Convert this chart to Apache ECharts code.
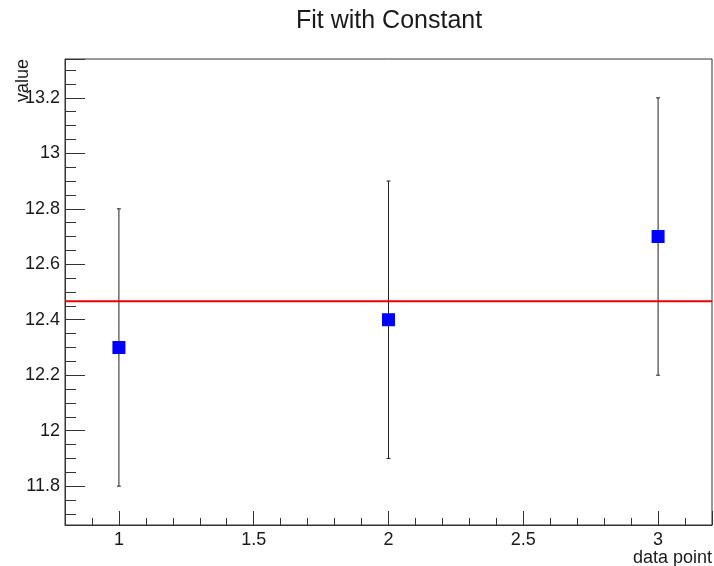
<!DOCTYPE html>
<html>
<head>
<meta charset="utf-8">
<script src="https://cdn.jsdelivr.net/npm/echarts@6/dist/echarts.min.js"></script>
<style>
  html, body { margin: 0; padding: 0; background: #fff; }
  #chart { width: 714px; height: 566px; }
</style>
</head>
<body>
<div id="chart"></div>
<script>
// Measurements and their uncertainties
const xValues = [1, 2, 3];
const yValues = [12.3, 12.4, 12.7];
const yErrors = [0.5, 0.5, 0.5];

// Result of the constant fit (weighted mean)
const fitConstant = 12.4667;

// Axis ranges
const xRange = [0.8, 3.2];
const yRange = [11.66, 13.34];
// Span covered by the fine (0.05) y ticks
const yMinorRange = [11.7, 13.3];

const FONT = '"Liberation Sans", Arial, Helvetica, sans-serif';
const INK = '#1a1a1a';

// Main plotting frame (pixels)
const frame = { left: 65, right: 2, top: 59, bottom: 41 };
const frameH = 566 - frame.top - frame.bottom;
const pxPerY = frameH / (yRange[1] - yRange[0]);

// A second grid whose vertical extent lines up with the fine y ticks
const minorGrid = {
  left: frame.left,
  right: frame.right,
  top: frame.top + (yRange[1] - yMinorRange[1]) * pxPerY,
  bottom: frame.bottom + (yMinorRange[0] - yRange[0]) * pxPerY
};

function isMultiple(v, step) {
  const q = v / step;
  return Math.abs(q - Math.round(q)) < 1e-6;
}
function fmt(v) { return String(+v.toFixed(2)); }

const chart = echarts.init(document.getElementById('chart'), null, { renderer: 'canvas' });

chart.setOption({
  animation: false,
  backgroundColor: '#fff',
  title: {
    text: 'Fit with Constant',
    left: 291,
    top: 4,
    textStyle: { fontFamily: FONT, fontSize: 25, fontWeight: 'normal', color: INK }
  },
  grid: [
    Object.assign({ show: true, borderColor: '#333', borderWidth: 1, backgroundColor: 'transparent', containLabel: false, outerBoundsMode: 'none' }, frame),
    Object.assign({ show: false, containLabel: false, outerBoundsMode: 'none' }, minorGrid)
  ],
  xAxis: [
    {
      // major ticks and labels
      type: 'value', gridIndex: 0, position: 'bottom',
      min: xRange[0], max: xRange[1], splitNumber: 5,
      name: 'data point', nameLocation: 'end', nameGap: 0, nameMoveOverlap: false,
      nameTextStyle: { fontFamily: FONT, fontSize: 18, color: INK, align: 'right', verticalAlign: 'top', padding: [24, 0, 0, 0] },
      axisLine: { show: true, onZero: false, lineStyle: { color: '#333', width: 1 } },
      axisTick: { show: true, inside: true, length: 14, lineStyle: { color: '#333', width: 1 } },
      axisLabel: {
        margin: 6, fontFamily: FONT, fontSize: 18, color: INK,
        formatter: v => (isMultiple(v, 0.5) && v >= 1 - 1e-6 && v <= 3 + 1e-6) ? fmt(v) : ''
      },
      splitLine: { show: false }
    },
    {
      // fine ticks every 0.1
      type: 'value', gridIndex: 0, position: 'bottom',
      min: xRange[0], max: xRange[1], interval: 0.1,
      axisLine: { show: false },
      axisTick: { show: true, inside: true, length: 7, lineStyle: { color: '#333', width: 1 } },
      axisLabel: { show: false },
      splitLine: { show: false }
    },
    {
      type: 'value', gridIndex: 1, show: false,
      min: xRange[0], max: xRange[1]
    }
  ],
  yAxis: [
    {
      // major ticks and labels
      type: 'value', gridIndex: 0, position: 'left',
      min: yRange[0], max: yRange[1], splitNumber: 8,
      name: 'value', nameLocation: 'end', nameGap: 0, nameRotate: 90, nameMoveOverlap: false,
      nameTextStyle: { fontFamily: FONT, fontSize: 18, color: INK, align: 'right', verticalAlign: 'bottom', padding: [0, 0, 33, 0] },
      axisLine: { show: true, onZero: false, lineStyle: { color: '#333', width: 1 } },
      axisTick: { show: true, inside: true, length: 20, lineStyle: { color: '#333', width: 1 } },
      axisLabel: {
        margin: 5, fontFamily: FONT, fontSize: 18, color: INK,
        formatter: v => (isMultiple(v, 0.2) && v > yRange[0] + 0.01 && v < yRange[1] - 0.01) ? fmt(v) : ''
      },
      splitLine: { show: false }
    },
    {
      // fine ticks every 0.05
      type: 'value', gridIndex: 1, position: 'left',
      min: yMinorRange[0], max: yMinorRange[1], interval: 0.05,
      axisLine: { show: false },
      axisTick: { show: true, inside: true, length: 11, lineStyle: { color: '#333', width: 1 } },
      axisLabel: { show: false },
      splitLine: { show: false }
    }
  ],
  series: [
    {
      name: 'errors',
      type: 'custom',
      xAxisIndex: 0, yAxisIndex: 0,
      z: 2,
      data: xValues.map((x, i) => [x, yValues[i], yErrors[i]]),
      renderItem: function (params, api) {
        const x = api.value(0), y = api.value(1), e = api.value(2);
        const hi = api.coord([x, y + e]);
        const lo = api.coord([x, y - e]);
        const cap = 2;
        const style = { stroke: '#222', lineWidth: 1 };
        return {
          type: 'group',
          children: [
            { type: 'line', shape: { x1: hi[0], y1: hi[1], x2: lo[0], y2: lo[1] }, style: style },
            { type: 'line', shape: { x1: hi[0] - cap, y1: hi[1], x2: hi[0] + cap, y2: hi[1] }, style: style },
            { type: 'line', shape: { x1: lo[0] - cap, y1: lo[1], x2: lo[0] + cap, y2: lo[1] }, style: style }
          ]
        };
      }
    },
    {
      name: 'fit',
      type: 'line',
      xAxisIndex: 0, yAxisIndex: 0,
      z: 3,
      data: [[xRange[0], fitConstant], [xRange[1], fitConstant]],
      symbol: 'none',
      lineStyle: { color: '#ee0000', width: 2 }
    },
    {
      name: 'data',
      type: 'scatter',
      xAxisIndex: 0, yAxisIndex: 0,
      z: 4,
      data: xValues.map((x, i) => [x, yValues[i]]),
      symbol: 'rect',
      symbolSize: 13,
      itemStyle: { color: '#0000ff', opacity: 1 }
    }
  ]
});
</script>
</body>
</html>
